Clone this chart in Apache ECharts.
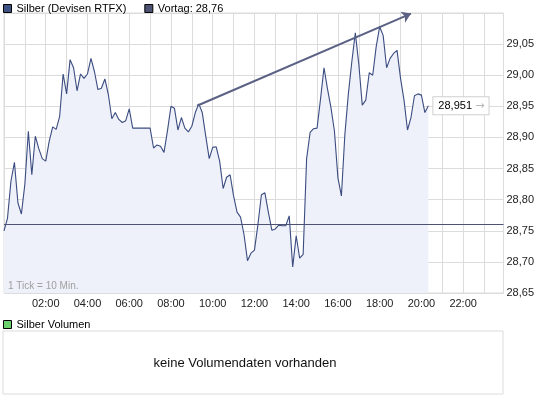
<!DOCTYPE html>
<html>
<head>
<meta charset="utf-8">
<script src="https://cdn.jsdelivr.net/npm/echarts@6/dist/echarts.min.js"></script>
<style>
  html, body { margin: 0; padding: 0; background: #fff; }
  #chart { width: 545px; height: 398px; }
</style>
</head>
<body>
<div id="chart"></div>
<script>
// Silber (Devisen RTFX) intraday, 1 Tick = 10 Min.
var tickMinutes = 10;
var prices = [
  28.750, 28.770, 28.830, 28.860, 28.795, 28.777, 28.825, 28.910, 28.840, 28.902,
  28.882, 28.866, 28.862, 28.894, 28.917, 28.913, 28.934, 29.002, 28.970, 29.025,
  29.012, 28.975, 29.002, 28.995, 29.002, 29.027, 29.006, 28.977, 28.979, 28.994,
  28.969, 28.930, 28.940, 28.929, 28.924, 28.927, 28.946, 28.915, 28.915, 28.915,
  28.915, 28.915, 28.915, 28.883, 28.888, 28.886, 28.876, 28.911, 28.950, 28.947,
  28.912, 28.932, 28.915, 28.909, 28.918, 28.940, 28.954, 28.940, 28.902, 28.866,
  28.884, 28.885, 28.862, 28.818, 28.836, 28.840, 28.806, 28.780, 28.772, 28.744,
  28.702, 28.714, 28.719, 28.760, 28.808, 28.811, 28.780, 28.751, 28.753, 28.759,
  28.758, 28.758, 28.774, 28.692, 28.742, 28.706, 28.712, 28.866, 28.908, 28.914,
  28.915, 28.962, 29.012, 28.978, 28.948, 28.910, 28.835, 28.806, 28.905, 28.970,
  29.022, 29.068, 29.018, 28.952, 28.960, 29.004, 29.000, 29.046, 29.078, 29.064,
  29.012, 29.027, 29.035, 29.040, 28.995, 28.960, 28.912, 28.932, 28.967, 28.970,
  28.968, 28.940, 28.951
];
var previousClose = 28.76;
// trend arrow drawn on the chart: [minute of day, price]
var trendLine = [[555, 28.951], [1170, 29.099]];
var yTicks = { min: 28.65, max: 29.10, step: 0.05 };

var font = 'Liberation Sans, Arial, sans-serif';
var lineColor = '#3b4c80';
var prevColor = '#4d5273';

function fmt(v, d) {
  return v.toFixed(d).replace('.', ',');
}
function pad(n) {
  return (n < 10 ? '0' : '') + n;
}

var seriesData = prices.map(function (p, i) {
  return [i * tickMinutes, p];
});

var chart = echarts.init(document.getElementById('chart'), null, { renderer: 'canvas' });

chart.setOption({
  animation: false,
  textStyle: { fontFamily: font },
  legend: [
    {
      left: 3, top: 3, padding: 0, itemWidth: 8, itemHeight: 8, itemGap: 18,
      icon: 'rect', selectedMode: false,
      itemStyle: { borderColor: '#000', borderWidth: 1 },
      textStyle: { fontSize: 11, color: '#000', fontFamily: font },
      data: ['Silber (Devisen RTFX)', 'Vortag: ' + fmt(previousClose, 2)]
    },
    {
      left: 3, top: 319, padding: 0, itemWidth: 8, itemHeight: 8,
      icon: 'rect', selectedMode: false,
      itemStyle: { borderColor: '#000', borderWidth: 1 },
      textStyle: { fontSize: 11, color: '#000', fontFamily: font },
      data: ['Silber Volumen']
    }
  ],
  grid: [
    {
      left: 4, right: 41.5, top: 13, bottom: 105,
      show: true, borderColor: '#dcdcdc', borderWidth: 1, backgroundColor: '#fff',
      containLabel: false, outerBoundsMode: 'none'
    },
    {
      left: 3, top: 331, width: 500, height: 63,
      show: true, borderColor: '#dcdcdc', borderWidth: 1, backgroundColor: '#fff',
      containLabel: false, outerBoundsMode: 'none'
    }
  ],
  xAxis: [
    {
      type: 'value', min: 0, max: 1436, interval: 60,
      axisLine: { show: false },
      axisTick: { show: false },
      splitLine: { show: true, lineStyle: { color: '#dcdcdc', width: 1 } },
      axisLabel: {
        margin: 5, fontSize: 11, color: '#222', fontFamily: font,
        showMinLabel: true, showMaxLabel: true,
        formatter: function (v) {
          if (v > 0 && v < 1440 && v % 120 === 0) return pad(v / 60) + ':00';
          return '';
        }
      }
    },
    { gridIndex: 1, type: 'category', show: false, data: [] }
  ],
  yAxis: [
    {
      type: 'value', position: 'right',
      min: yTicks.min, max: yTicks.max, interval: yTicks.step,
      axisLine: { show: false },
      axisTick: { show: false },
      splitLine: { show: true, lineStyle: { color: '#dcdcdc', width: 1 } },
      axisLabel: {
        margin: 3, fontSize: 11, color: '#222', fontFamily: font,
        formatter: function (v) {
          if (v > yTicks.max - 0.001) return '';
          return fmt(v, 2);
        }
      }
    },
    { gridIndex: 1, type: 'value', show: false }
  ],
  series: [
    {
      name: 'Silber (Devisen RTFX)',
      type: 'line',
      data: seriesData,
      showSymbol: false,
      symbol: 'none',
      clip: false,
      z: 3,
      lineStyle: { color: lineColor, width: 1.1 },
      itemStyle: { color: '#3d5283' },
      areaStyle: { color: '#eef1f9', opacity: 1, origin: 'start' },
      endLabel: {
        show: true,
        distance: 5,
        backgroundColor: '#fff',
        borderColor: '#d0d0d0',
        borderWidth: 1,
        padding: [3, 4, 2, 5],
        formatter: function (p) {
          return '{v|' + fmt(p.value[1], 3) + '} {a|\u2192}';
        },
        rich: {
          v: { fontSize: 11, color: '#000', fontFamily: font },
          a: { fontSize: 11, color: '#b8b8b8', fontFamily: 'DejaVu Sans' }
        }
      },
      markLine: {
        silent: true,
        animation: false,
        symbol: ['none', 'none'],
        label: { show: false },
        emphasis: { disabled: true },
        data: [
          { yAxis: previousClose, lineStyle: { color: prevColor, width: 1, type: 'solid' } },
          [
            { coord: trendLine[0], lineStyle: { color: '#5a6184', width: 2, type: 'solid' } },
            { coord: trendLine[1], symbol: 'arrow', symbolSize: 9,
              lineStyle: { color: '#5a6184', width: 2, type: 'solid' } }
          ]
        ]
      }
    },
    {
      name: 'Vortag: ' + fmt(previousClose, 2),
      type: 'line',
      data: [],
      itemStyle: { color: prevColor },
      lineStyle: { color: prevColor }
    },
    {
      name: 'Silber Volumen',
      type: 'bar',
      xAxisIndex: 1,
      yAxisIndex: 1,
      data: [],
      itemStyle: { color: '#6cd06c' }
    }
  ],
  graphic: [
    {
      type: 'text', x: 8, y: 281, z: 100, silent: true,
      style: { text: '1 Tick = 10 Min.', fill: '#a0a0a0', font: '10px ' + font }
    },
    {
      type: 'text', x: 245, y: 363, z: 100, silent: true,
      style: {
        text: 'keine Volumendaten vorhanden', fill: '#111',
        font: '13px ' + font, align: 'center', verticalAlign: 'middle'
      }
    }
  ]
});
</script>
</body>
</html>
